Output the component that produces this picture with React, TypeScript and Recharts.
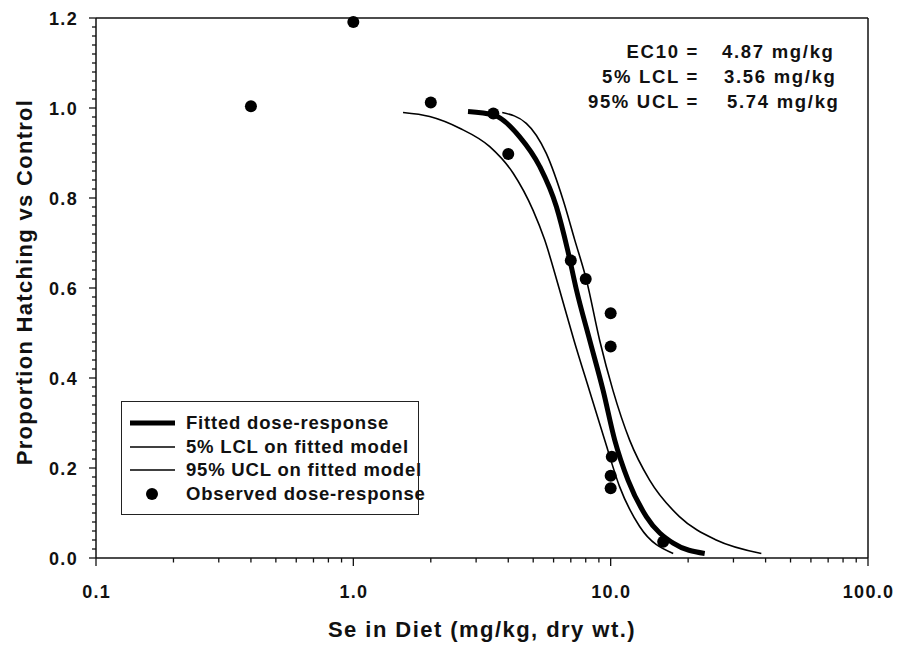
import React from "react";
import {
  ComposedChart,
  Line,
  Scatter,
  XAxis,
  YAxis,
  ReferenceLine,
  Legend,
} from "recharts";

const FONT = "Arial, 'Liberation Sans', Helvetica, sans-serif";

// fitted dose-response curve
const fittedX = [2.79, 3.52, 4.43, 5.3, 6.15, 6.8, 7.36, 8.29, 9.34, 10.37, 11.68, 13.76, 17.5, 23.2];
const fittedY = [0.992, 0.984, 0.936, 0.87, 0.781, 0.685, 0.596, 0.484, 0.373, 0.262, 0.173, 0.092, 0.033, 0.01];

// 5% lower confidence limit
const lclX = [1.56, 1.98, 2.59, 3.39, 4.18, 4.99, 5.54, 6.3, 7.2, 8.29, 9.48, 10.84, 12.96, 17.5];
const lclY = [0.99, 0.981, 0.955, 0.914, 0.855, 0.773, 0.707, 0.6, 0.484, 0.37, 0.262, 0.158, 0.07, 0.01];

// 95% upper confidence limit
const uclX = [3.79, 4.7, 5.62, 6.53, 7.25, 8.05, 9.06, 10.2, 11.85, 14.17, 18.5, 25.7, 38.5];
const uclY = [0.99, 0.966, 0.899, 0.796, 0.707, 0.618, 0.484, 0.373, 0.262, 0.173, 0.092, 0.04, 0.01];

// observed dose-response
const obsX = [0.4, 1.0, 2.0, 3.5, 4.0, 7.0, 8.0, 10, 10, 10.1, 10, 10, 16];
const obsY = [1.004, 1.191, 1.012, 0.988, 0.898, 0.661, 0.62, 0.544, 0.47, 0.225, 0.183, 0.155, 0.036];

const MAJOR_X = [0.1, 1, 10, 100];
const MINOR_MULT = [2, 3, 4, 5, 6, 7, 8, 9];

const LEGEND_LABELS = [
  "Fitted dose-response",
  "5% LCL on fitted model",
  "95% UCL on fitted model",
  "Observed dose-response",
];

const ANNOT_LABELS = ["EC10 =", "5% LCL =", "95% UCL ="];
const ANNOT_VALUES = ["4.87 mg/kg", "3.56 mg/kg", "5.74 mg/kg"];

const X_TITLE = "Se in Diet (mg/kg, dry wt.)";
const Y_TITLE = "Proportion Hatching vs Control";

const zip = (xs: number[], ys: number[]) => xs.map((x, i) => ({ x, y: ys[i] }));

const fitted = zip(fittedX, fittedY);
const lcl = zip(lclX, lclY);
const ucl = zip(uclX, uclY);
const observed = zip(obsX, obsY);

const xTicks: number[] = [];
MAJOR_X.forEach((d, i) => {
  xTicks.push(d);
  if (i < MAJOR_X.length - 1) MINOR_MULT.forEach((m) => xTicks.push(+(d * m).toFixed(4)));
});

const yTicks = Array.from({ length: 61 }, (_, i) => +(i * 0.02).toFixed(2));
const isMajorY = (v: number) => Math.abs(v * 5 - Math.round(v * 5)) < 1e-6;

function XTick(props: any) {
  const { x, y, payload } = props;
  const v = payload.value as number;
  const major = MAJOR_X.includes(v);
  return (
    <g>
      <line x1={x} x2={x} y1={y} y2={y + (major ? 8 : 4.5)} stroke="#111" strokeWidth={1.3} />
      {major && (
        <text
          x={x + 0.6}
          y={y + 40}
          textAnchor="middle"
          fontFamily={FONT}
          fontWeight={700}
          fontSize={18}
          letterSpacing={1.3}
          fill="#111"
        >
          {v.toFixed(1)}
        </text>
      )}
    </g>
  );
}

function YTick(props: any) {
  const { x, y, payload } = props;
  const v = payload.value as number;
  const major = isMajorY(v);
  return (
    <g>
      <line x1={x - (major ? 7 : 4)} x2={x} y1={y} y2={y} stroke="#111" strokeWidth={1.3} />
      {major && (
        <text
          x={x - 18}
          y={y + 6.5}
          textAnchor="end"
          fontFamily={FONT}
          fontWeight={700}
          fontSize={18}
          letterSpacing={1.3}
          fill="#111"
        >
          {v.toFixed(1)}
        </text>
      )}
    </g>
  );
}

function LegendBox() {
  return (
    <div
      style={{
        position: "relative",
        width: 298,
        height: 114,
        border: "1.5px solid #222",
        boxSizing: "border-box",
        background: "#fff",
        fontFamily: FONT,
        fontWeight: 700,
        fontSize: 18.5,
        letterSpacing: 0.8,
        color: "#111",
      }}
    >
      {LEGEND_LABELS.map((label, i) => (
        <div
          key={label}
          style={{
            position: "absolute",
            left: 0,
            top: 9 + i * 23.6,
            height: 24,
            display: "flex",
            alignItems: "center",
            whiteSpace: "nowrap",
          }}
        >
          <svg width={64} height={24} style={{ display: "block" }}>
            {i < 3 ? (
              <line x1={8} x2={53} y1={12} y2={12} stroke="#000" strokeWidth={i === 0 ? 5 : 1.6} />
            ) : (
              <circle cx={30} cy={12} r={6} fill="#000" />
            )}
          </svg>
          <span>{label}</span>
        </div>
      ))}
    </div>
  );
}

const Dot = (props: any) => <circle cx={props.cx} cy={props.cy} r={6} fill="#000" />;

export default function App() {
  return (
    <div style={{ position: "absolute", left: 0, top: 0, width: 899, height: 647, background: "#fff" }}>
      <ComposedChart width={899} height={647} margin={{ top: 18, right: 31, bottom: 0, left: 0 }}>
        <XAxis
          dataKey="x"
          type="number"
          scale="log"
          domain={[0.1, 100]}
          ticks={xTicks}
          interval={0}
          height={89}
          tickSize={0}
          tickMargin={0}
          tickLine={false}
          tick={<XTick />}
          axisLine={{ stroke: "#111", strokeWidth: 1.5 }}
        />
        <YAxis
          type="number"
          domain={[0, 1.2]}
          ticks={yTicks}
          interval={0}
          width={96}
          tickSize={0}
          tickMargin={0}
          tickLine={false}
          tick={<YTick />}
          axisLine={{ stroke: "#111", strokeWidth: 1.5 }}
        />
        <ReferenceLine y={1.2} stroke="#111" strokeWidth={1.5} />
        <ReferenceLine x={100} stroke="#111" strokeWidth={1.5} />

        <Line data={lcl} dataKey="y" type="monotone" stroke="#000" strokeWidth={1.6} dot={false} isAnimationActive={false} />
        <Line data={ucl} dataKey="y" type="monotone" stroke="#000" strokeWidth={1.6} dot={false} isAnimationActive={false} />
        <Line data={fitted} dataKey="y" type="monotone" stroke="#000" strokeWidth={5} dot={false} isAnimationActive={false} />
        <Scatter data={observed} dataKey="y" fill="#000" shape={Dot} isAnimationActive={false} />

        <Legend
          layout="vertical"
          align="center"
          verticalAlign="middle"
          content={() => <LegendBox />}
          wrapperStyle={{ left: 121, top: 401, width: 298, height: 114 }}
        />
      </ComposedChart>

      <svg
        width={899}
        height={647}
        style={{ position: "absolute", left: 0, top: 0, pointerEvents: "none" }}
        fontFamily={FONT}
        fontWeight={700}
        fill="#111"
      >
        <text x={482} y={636.5} textAnchor="middle" fontSize={22} letterSpacing={1.45}>
          {X_TITLE}
        </text>
        <text transform="rotate(-90)" x={-282} y={31.5} textAnchor="middle" fontSize={22} letterSpacing={1.3}>
          {Y_TITLE}
        </text>
        {ANNOT_LABELS.map((t, i) => (
          <text key={t} x={699} y={58.3 + i * 25} textAnchor="end" fontSize={18.5} letterSpacing={1.7}>
            {t}
          </text>
        ))}
        {ANNOT_VALUES.map((t, i) => (
          <text key={t} x={[722, 724, 727][i]} y={58.3 + i * 25} fontSize={18.5} letterSpacing={1.7}>
            {t}
          </text>
        ))}
      </svg>
    </div>
  );
}
